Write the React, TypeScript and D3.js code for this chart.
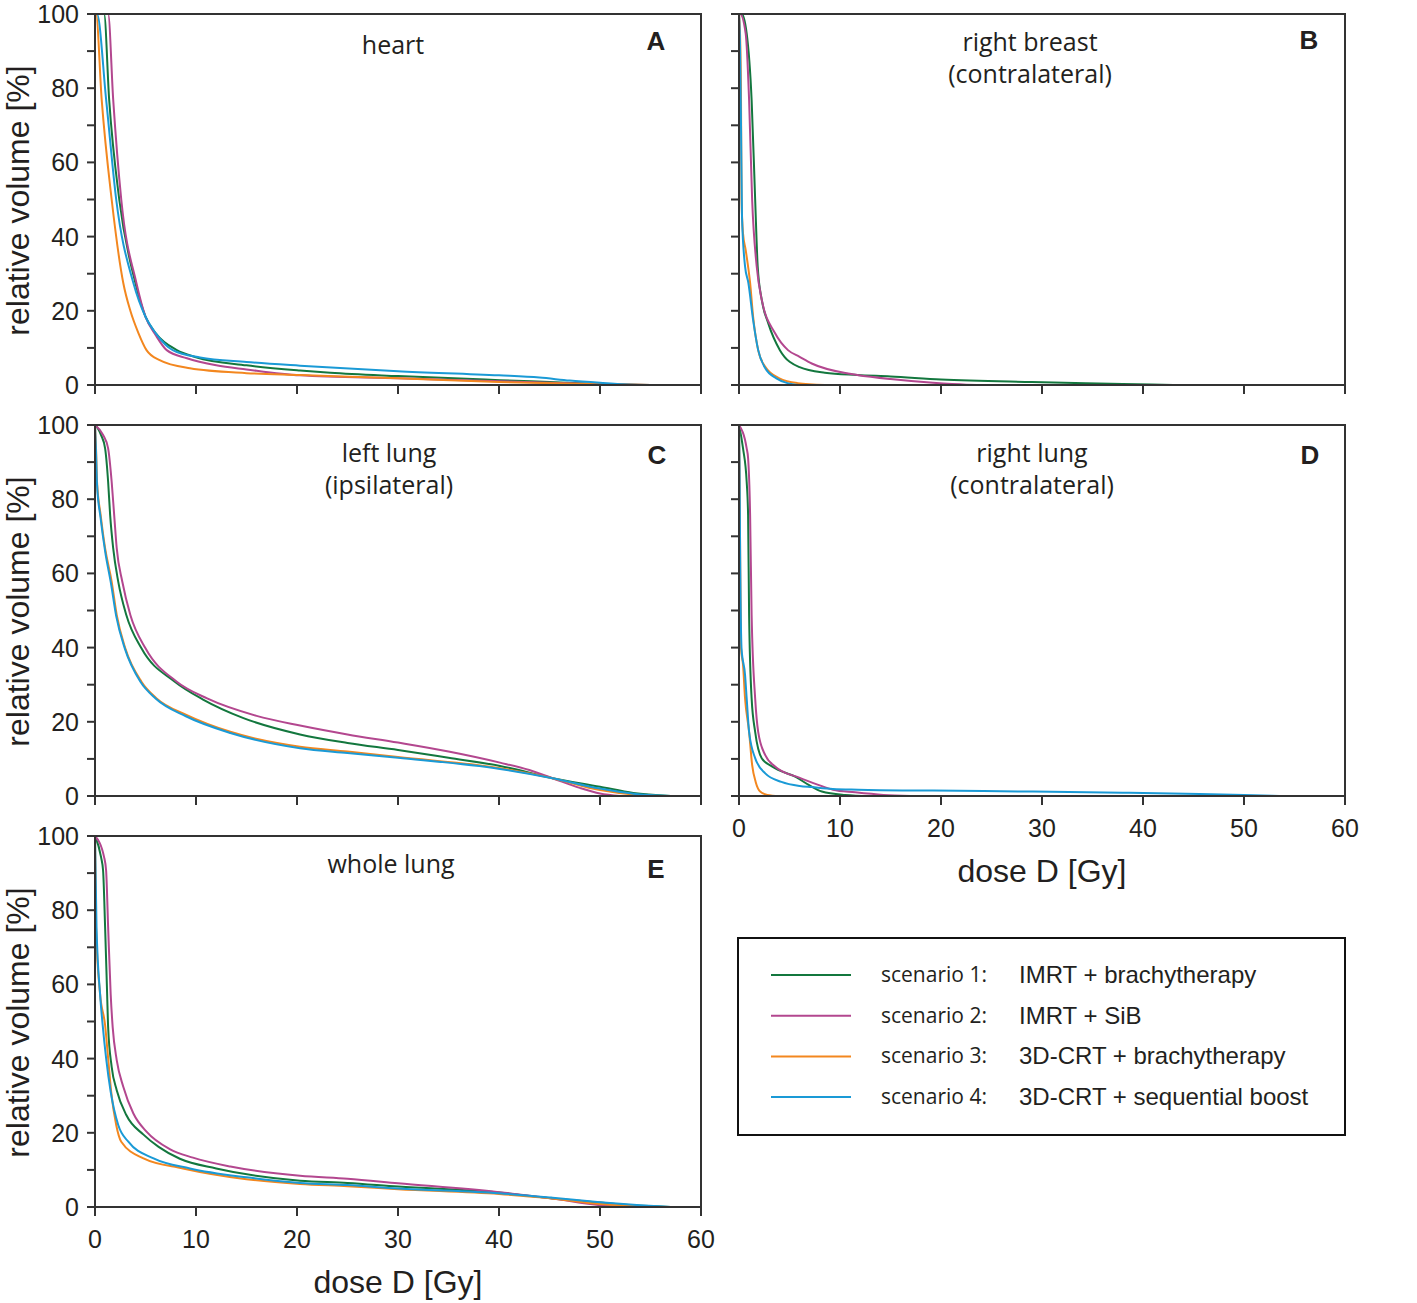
import * as d3 from 'd3';

type Pt = [number, number];

// dose ticks / volume ticks
const doseTicks = [0, 10, 20, 30, 40, 50, 60];
const volumeTicks = [0, 10, 20, 30, 40, 50, 60, 70, 80, 90, 100];
const volumeLabels = [0, 20, 40, 60, 80, 100];

const scenarioNames = ['scenario 1:', 'scenario 2:', 'scenario 3:', 'scenario 4:'];
const scenarioPlans = ['IMRT + brachytherapy', 'IMRT + SiB', '3D-CRT + brachytherapy', '3D-CRT + sequential boost'];
const scenarioColors = ['#13773e', '#b3478f', '#f3871f', '#1a9ad6'];

// heart (A)
const heartS1: Pt[] = [[0, 100], [0.9, 100], [1.4, 77], [2.4, 50], [4.0, 27.5], [5, 18.4], [6, 14], [8.1, 9.4], [10, 7.5], [15, 5.3], [20.3, 3.9], [23.3, 3.3], [30, 2.4], [40.1, 1.3], [45, 0.8], [50, 0.3], [55, 0]];
const heartS2: Pt[] = [[0, 100], [1.3, 100], [1.8, 77], [2.6, 50], [4.1, 27.5], [5, 18.4], [6, 13.5], [7.1, 9.4], [9.1, 7.2], [12, 5.3], [15, 4.2], [20.3, 2.6], [30, 1.8], [40, 1.0], [45, 0.6], [50, 0.2], [55, 0]];
const heartS3: Pt[] = [[0, 100], [0.1, 100], [0.66, 77], [1.65, 50], [2.8, 27.5], [3.5, 20], [4.3, 14], [5.1, 9.4], [6.4, 6.7], [9.4, 4.5], [15, 3.2], [20.3, 2.7], [30, 1.8], [40, 0.8], [50, 0.2], [55, 0]];
const heartS4: Pt[] = [[0, 100], [0.2, 100], [1.1, 77], [2.1, 50], [3.8, 27.5], [5, 18.4], [6, 14], [7.7, 9.4], [10.4, 7.4], [15, 6.2], [20.3, 5.2], [30, 3.7], [40, 2.6], [44, 2.0], [47, 1.2], [50, 0.6], [53, 0.1], [55, 0]];

// right breast (B)
const breastS1: Pt[] = [[0, 100], [0.27, 100], [0.76, 94.8], [1.25, 76.8], [1.6, 50], [1.85, 32], [2.25, 23], [2.9, 16.6], [4.05, 9.4], [6, 4.8], [8.5, 3.3], [11.7, 2.7], [15, 2.3], [20, 1.5], [29, 0.8], [38, 0.3], [43, 0]];
const breastS2: Pt[] = [[0, 100], [0.1, 100], [0.66, 94.8], [1.0, 76.8], [1.3, 50], [1.75, 32], [2.25, 23], [3.56, 14], [4.85, 9.4], [6, 7.6], [7.2, 5.8], [10.8, 3.1], [11.7, 2.7], [15, 1.6], [19.2, 0.6], [22.5, 0.1], [25, 0]];
const breastS3: Pt[] = [[0, 100], [0.1, 95], [0.2, 77], [0.25, 50], [0.4, 40.8], [0.66, 36.4], [1.1, 27.5], [1.4, 18.4], [1.9, 9.4], [2.6, 4.9], [4, 1.8], [5.8, 0.5], [8.5, 0]];
const breastS4: Pt[] = [[0, 100], [0.1, 92], [0.2, 70], [0.3, 45], [0.6, 32], [0.93, 27.5], [1.4, 17.5], [1.9, 9.4], [2.6, 4.5], [3.7, 1.8], [4.8, 0.5], [6, 0]];

// left lung (C)
const lungLS1: Pt[] = [[0, 100], [0.3, 99], [0.6, 97.3], [1.0, 93.7], [1.3, 84.7], [1.5, 75.7], [1.8, 66.8], [2.3, 57.8], [3.1, 48.8], [4.6, 39.8], [7.9, 30.8], [10.7, 26.0], [14.7, 21.0], [20.3, 16.6], [25, 14.3], [30, 12.4], [35, 10.3], [40.1, 8.1], [45.3, 4.8], [50, 2.5], [53.3, 0.8], [57, 0]];
const lungLS2: Pt[] = [[0, 100], [0.8, 97.3], [1.3, 93.7], [1.65, 84.7], [1.9, 75.7], [2.15, 66.8], [2.7, 57.8], [3.5, 48.8], [5.0, 39.8], [8.1, 30.8], [11.1, 26.3], [16, 21.6], [20.3, 19.0], [25, 16.6], [30, 14.4], [35, 12.0], [40.1, 9.0], [43, 7], [45.3, 4.8], [48, 2.2], [50, 0.7], [52, 0]];
const lungLS3: Pt[] = [[0, 100], [0.1, 93.7], [0.2, 84.7], [0.56, 75.7], [1.0, 66.8], [1.65, 57.8], [2.15, 48.8], [3.0, 39.8], [4.6, 30.8], [6.1, 26.3], [9.1, 21.8], [13.4, 17.3], [20.3, 13.3], [25, 12.0], [30, 10.5], [40.1, 7.5], [45.3, 4.8], [50, 1.6], [53.3, 0.4], [56, 0]];
const lungLS4: Pt[] = [[0, 100], [0.1, 93], [0.2, 84], [0.55, 75], [1.0, 66], [1.6, 57], [2.1, 48.5], [2.95, 39.8], [4.5, 30.8], [6.0, 26.3], [9.0, 21.5], [13.4, 17], [20.3, 12.9], [25, 11.6], [30, 10.3], [40.1, 7.3], [45.3, 4.8], [50, 2.0], [53.3, 0.6], [57, 0]];

// right lung (D)
const lungRS1: Pt[] = [[0, 100], [0.4, 93.7], [0.76, 84.7], [0.9, 75.7], [1.0, 48.8], [1.25, 26.3], [1.6, 17.3], [2.25, 10.2], [3.3, 7.9], [5.7, 5.0], [6.9, 3.0], [8.2, 1.2], [10.5, 0.3], [13, 0]];
const lungRS2: Pt[] = [[0, 100], [0.76, 93.7], [0.9, 91.1], [1.1, 75.7], [1.25, 48.8], [1.6, 26.3], [1.9, 17.3], [2.6, 11], [3.6, 7.9], [5.9, 5.0], [7.85, 3.0], [9.3, 1.7], [11.5, 1.0], [14.3, 0.3], [17, 0]];
const lungRS3: Pt[] = [[0, 100], [0.05, 90], [0.1, 70], [0.2, 39.8], [0.4, 35.3], [0.6, 26.3], [1.0, 17.3], [1.3, 8.4], [1.65, 3.8], [2.1, 1.2], [2.8, 0.3], [4, 0]];
const lungRS4: Pt[] = [[0, 100], [0.05, 90], [0.1, 70], [0.25, 39.8], [0.6, 32.6], [0.76, 26.3], [1.0, 17.3], [1.6, 10.2], [2.6, 6.1], [4.2, 3.8], [6, 2.7], [7.2, 2.4], [9.3, 1.9], [11.8, 1.7], [19.2, 1.45], [29.1, 1.2], [38, 0.9], [45.6, 0.55], [50, 0.3], [53.5, 0]];

// whole lung (E)
const lungWS1: Pt[] = [[0, 100], [0.6, 94.3], [0.8, 90.7], [1.0, 75.5], [1.2, 57.5], [1.3, 48.5], [1.65, 37.8], [2.15, 31.5], [3.1, 24.8], [4.8, 19.5], [6.3, 16.2], [8.4, 13.0], [12, 10.4], [20.3, 7.1], [25, 6.5], [30, 5.5], [40, 3.9], [45.3, 2.3], [50, 1.2], [53.3, 0.5], [57, 0]];
const lungWS2: Pt[] = [[0, 100], [0.9, 94.3], [1.1, 90.7], [1.3, 75.5], [1.55, 57.5], [1.75, 48.5], [2.15, 39.6], [2.8, 32.4], [3.8, 25.2], [5.1, 20.3], [7.4, 15.6], [9.7, 13.3], [13.4, 10.9], [20.3, 8.4], [25, 7.6], [30, 6.4], [40, 4.0], [45.3, 2.3], [50, 0.5], [53, 0]];
const lungWS3: Pt[] = [[0, 100], [0.1, 75.5], [0.5, 57.5], [1.0, 49], [1.3, 40.1], [1.6, 31.1], [2.1, 22.1], [2.6, 17.6], [4.8, 13.1], [8.7, 10.4], [15, 7.5], [20.3, 6.2], [25, 5.6], [30, 4.8], [40, 3.5], [45.3, 2.3], [50, 0.8], [53.3, 0.3], [55.5, 0]];
const lungWS4: Pt[] = [[0, 100], [0.15, 75.5], [0.5, 57.5], [0.76, 49], [1.1, 40.1], [1.55, 31.1], [2.3, 22.1], [3.3, 17.6], [5.8, 13.1], [9.4, 10.4], [15, 8], [20.3, 6.5], [25, 5.9], [30, 5.0], [40, 3.7], [45.3, 2.5], [50, 1.3], [53.3, 0.6], [57, 0]];

const organTitles = [['heart'], ['right breast', '(contralateral)'], ['left lung', '(ipsilateral)'], ['right lung', '(contralateral)'], ['whole lung']];
const panelLetters = ['A', 'B', 'C', 'D', 'E'];
const organSeries = [
  [heartS1, heartS2, heartS3, heartS4],
  [breastS1, breastS2, breastS3, breastS4],
  [lungLS1, lungLS2, lungLS3, lungLS4],
  [lungRS1, lungRS2, lungRS3, lungRS4],
  [lungWS1, lungWS2, lungWS3, lungWS4],
];

// layout
const W = 1417;
const H = 1303;
const PW = 606;
const PH = 371;
const panelPos = [
  { x: 95, y: 14, yLab: true, xLab: false, titleDx: 298, titleDy: 40, letterDx: 561, letterDy: 36 },
  { x: 739, y: 14, yLab: false, xLab: false, titleDx: 291, titleDy: 37, letterDx: 570, letterDy: 35 },
  { x: 95, y: 425, yLab: true, xLab: false, titleDx: 294, titleDy: 37, letterDx: 562, letterDy: 39 },
  { x: 739, y: 425, yLab: false, xLab: true, titleDx: 293, titleDy: 37, letterDx: 571, letterDy: 39 },
  { x: 95, y: 836, yLab: true, xLab: true, titleDx: 296, titleDy: 37, letterDx: 561, letterDy: 42 },
];

const TXT = '#231f20';
const AX = '#333';
const ARIAL = '"Liberation Sans", Arial, Helvetica, sans-serif';
const MYRIAD = '"Open Sans", "Noto Sans", sans-serif';

function Panel({ idx }: { idx: number }) {
  const p = panelPos[idx];
  const x = d3.scaleLinear().domain([0, 60]).range([p.x, p.x + PW]);
  const y = d3.scaleLinear().domain([0, 100]).range([p.y + PH, p.y]);
  const line = d3.line<Pt>().x(d => x(d[0])).y(d => y(d[1])).curve(d3.curveMonotoneX);
  const bottom = p.y + PH;
  return (
    <g>
      {organSeries[idx].map((s, i) => (
        <path key={i} d={line(s) || ''} fill="none" stroke={scenarioColors[i]} strokeWidth={2} strokeLinejoin="round" />
      ))}
      {/* frame */}
      <path d={`M${p.x},${bottom}V${p.y}H${p.x + PW}V${bottom}Z`} fill="none" stroke={AX} strokeWidth={2} />
      {volumeTicks.map(t => (
        <line key={t} x1={p.x - 8} x2={p.x} y1={y(t)} y2={y(t)} stroke={AX} strokeWidth={2} />
      ))}
      {doseTicks.map(t => (
        <line key={t} x1={x(t)} x2={x(t)} y1={bottom} y2={bottom + 9} stroke={AX} strokeWidth={2} />
      ))}
      {p.yLab && volumeLabels.map(t => (
        <text key={t} x={p.x - 16} y={y(t) + 9} textAnchor="end" fontFamily={ARIAL} fontSize={25} fill={TXT}>{t}</text>
      ))}
      {p.yLab && (
        <text transform={`translate(${p.x - 66},${p.y + PH / 2 + 1}) rotate(-90)`} textAnchor="middle" fontFamily={ARIAL} fontSize={32} fill={TXT}>relative volume [%]</text>
      )}
      {p.xLab && doseTicks.map(t => (
        <text key={t} x={x(t)} y={bottom + 41} textAnchor="middle" fontFamily={ARIAL} fontSize={25} fill={TXT}>{t}</text>
      ))}
      {p.xLab && (
        <text x={p.x + PW / 2} y={bottom + 86} textAnchor="middle" fontFamily={ARIAL} fontSize={32} fill={TXT}>dose D [Gy]</text>
      )}
      {organTitles[idx].map((t, k) => (
        <text key={k} x={p.x + p.titleDx} y={p.y + p.titleDy + k * 32} textAnchor="middle" fontFamily={MYRIAD} fontSize={25} fill={TXT}>{t}</text>
      ))}
      <text x={p.x + p.letterDx} y={p.y + p.letterDy} textAnchor="middle" fontFamily={ARIAL} fontWeight="bold" fontSize={26} fill={TXT}>{panelLetters[idx]}</text>
    </g>
  );
}

function Legend() {
  const lx = 738, ly = 938, lw = 607, lh = 197;
  return (
    <g>
      <rect x={lx} y={ly} width={lw} height={lh} fill="#fff" stroke="#111" strokeWidth={2} />
      {scenarioNames.map((n, i) => {
        const yy = 975 + i * 40.7;
        return (
          <g key={n}>
            <line x1={771} x2={851} y1={yy} y2={yy} stroke={scenarioColors[i]} strokeWidth={2} />
            <text x={881} y={yy + 7} fontFamily={MYRIAD} fontSize={21} fill={TXT}>{n}</text>
            <text x={1019} y={yy + 8} fontFamily={ARIAL} fontSize={24} fill={TXT}>{scenarioPlans[i]}</text>
          </g>
        );
      })}
    </g>
  );
}

export default function App() {
  return (
    <svg width={W} height={H} viewBox={`0 0 ${W} ${H}`} style={{ position: 'absolute', left: 0, top: 0, background: '#fff' }}>
      {panelPos.map((_, i) => <Panel key={i} idx={i} />)}
      <Legend />
    </svg>
  );
}
